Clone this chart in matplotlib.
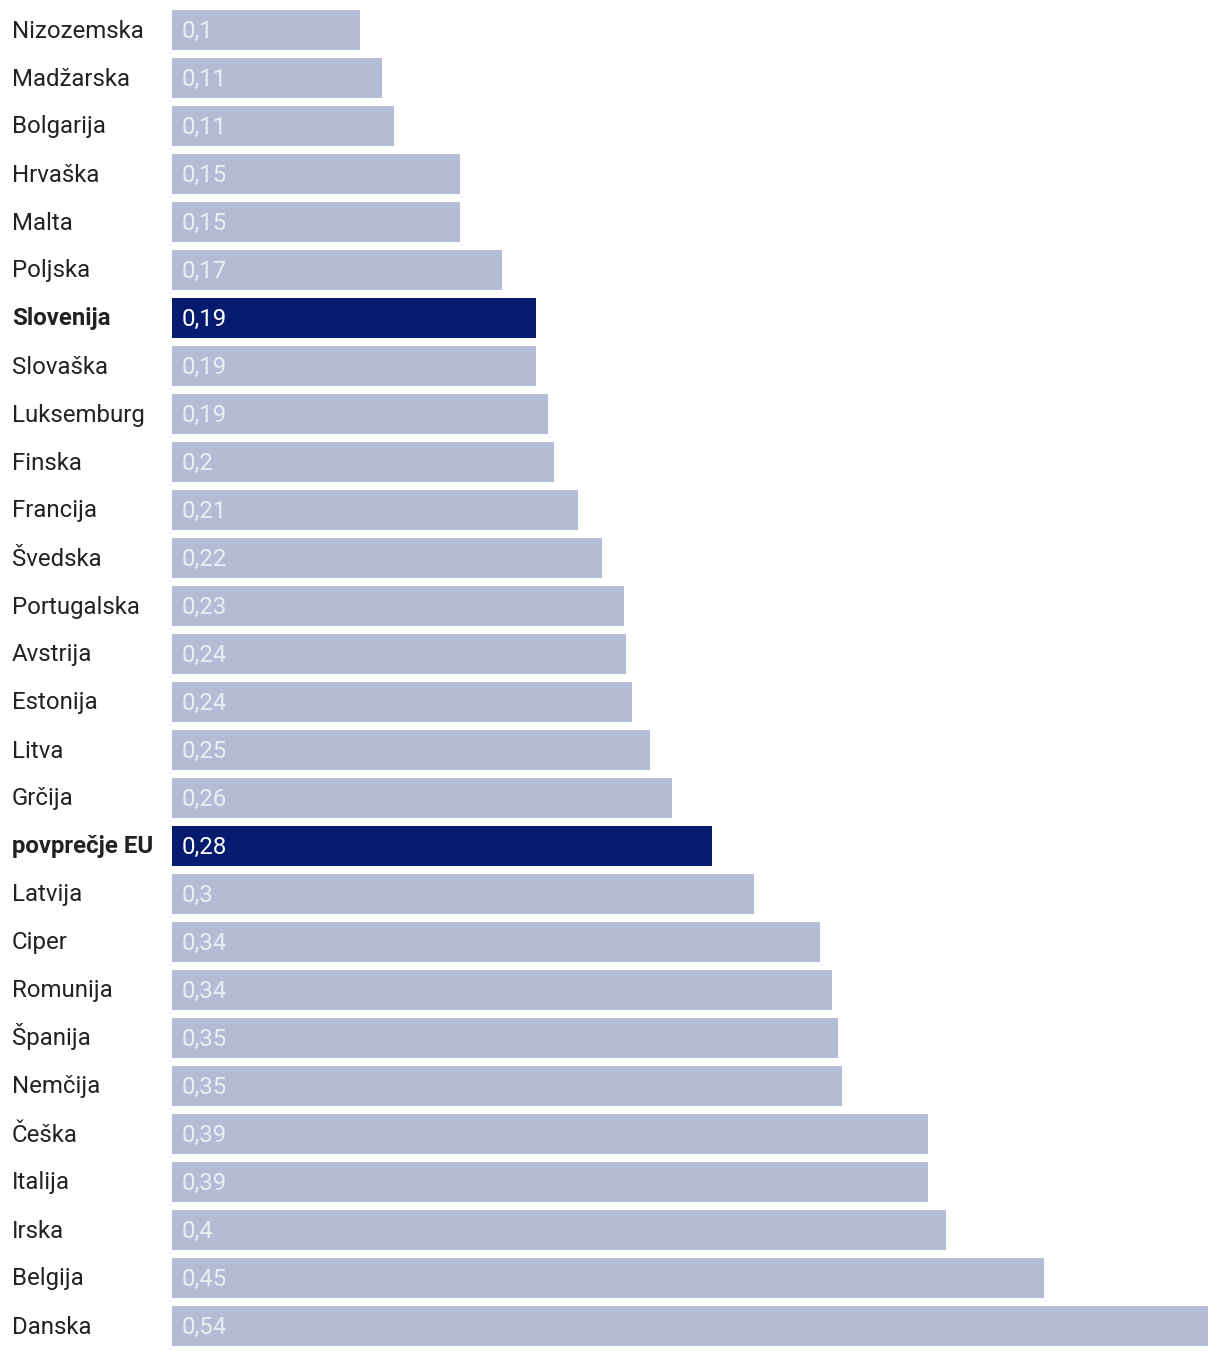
import matplotlib
matplotlib.use("Agg")
from matplotlib import pyplot as plt

plt.rcParams['font.family'] = ['Roboto', 'DejaVu Sans']

countries = ["Nizozemska", "Madžarska", "Bolgarija", "Hrvaška", "Malta", "Poljska",
             "Slovenija", "Slovaška", "Luksemburg", "Finska", "Francija", "Švedska",
             "Portugalska", "Avstrija", "Estonija", "Litva", "Grčija", "povprečje EU",
             "Latvija", "Ciper", "Romunija", "Španija", "Nemčija", "Češka", "Italija",
             "Irska", "Belgija", "Danska"]
values = [0.0974, 0.1088, 0.1149, 0.1492, 0.1492, 0.1710,
          0.1886, 0.1886, 0.1948, 0.1979, 0.2104, 0.2228,
          0.2342, 0.2352, 0.2383, 0.2477, 0.2591, 0.2798,
          0.3016, 0.3358, 0.3420, 0.3451, 0.3472, 0.3917, 0.3917,
          0.4010, 0.4518, 0.5368]
highlight = ["Slovenija", "povprečje EU"]

light = "#b3bbd5"
dark = "#051c6e"

W, H = 1220, 1356
fig = plt.figure(figsize=(W / 100, H / 100), dpi=100)
ax = fig.add_axes([172 / W, 6 / H, 1036 / W, 1344 / H])

n = len(countries)
ypos = list(range(n))
colors = [dark if c in highlight else light for c in countries]
ax.barh(ypos, values, height=40 / 48, color=colors, linewidth=0)
ax.set_ylim(n - 0.5, -0.5)
ax.set_xlim(0, 1036 / 1930)
ax.axis("off")

fs = 17.3
for y, c, v in zip(ypos, countries, values):
    hl = c in highlight
    lab = ("%.2f" % round(v, 2)).rstrip("0").replace(".", ",")
    base = 1 - (30 + 48 * y + 7.5) / H
    fig.text(182 / W, base, lab, va="baseline", ha="left", fontsize=fs,
             color="white", alpha=1.0 if hl else 0.75)
    fig.text(12 / W, base, c, va="baseline", ha="left",
             fontsize=fs, color="#222222", fontweight="bold" if hl else "normal")

fig.savefig("out.png", dpi=100)
